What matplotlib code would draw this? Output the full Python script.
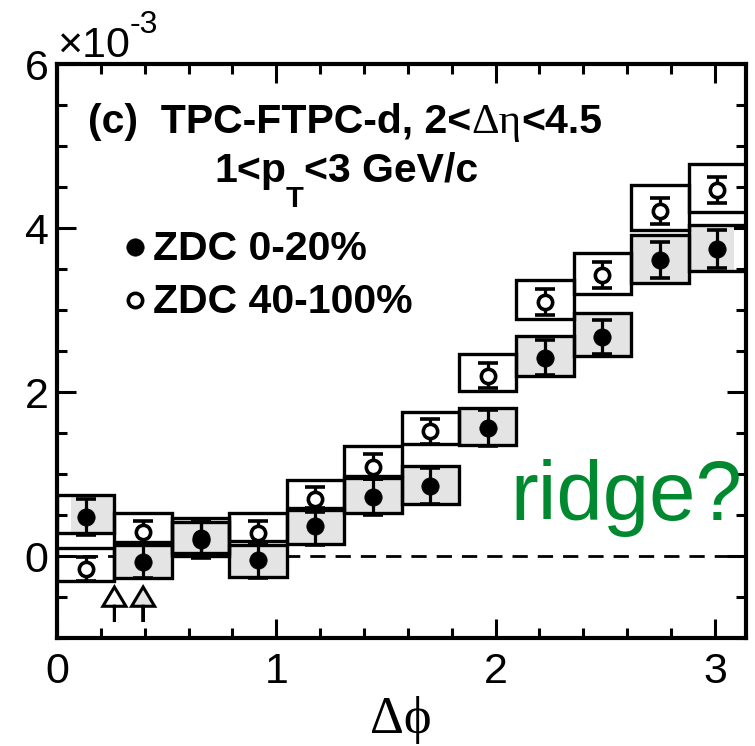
import numpy as np
import matplotlib
matplotlib.use("Agg")
import matplotlib.pyplot as plt
from matplotlib.patches import Rectangle
from matplotlib.lines import Line2D
from matplotlib.transforms import IdentityTransform
from matplotlib.ticker import MultipleLocator

# Delta-phi binning: 12 bins over [0, pi]
n_bins = 12
edges = np.linspace(0.0, np.pi, n_bins + 1)
centers = 0.5 * (edges[:-1] + edges[1:])

# Correlated yield, in units of 1e-3
# ZDC 0-20% (filled circles, grey systematic boxes)
central_val = [0.48, -0.07, 0.20, -0.05, 0.36, 0.72, 0.85, 1.56, 2.42, 2.67, 3.61, 3.74]
central_stat = [0.22, 0.20, 0.22, 0.22, 0.22, 0.22, 0.22, 0.22, 0.21, 0.21, 0.22, 0.23]
central_sys_lo = [0.28, -0.27, 0.04, -0.25, 0.15, 0.52, 0.64, 1.35, 2.19, 2.44, 3.33, 3.47]
central_sys_hi = [0.74, 0.13, 0.42, 0.14, 0.56, 0.95, 1.10, 1.81, 2.68, 2.96, 3.91, 4.04]

# ZDC 40-100% (open circles, open systematic boxes)
periph_val = [-0.16, 0.29, 0.22, 0.28, 0.69, 1.09, 1.52, 2.20, 3.10, 3.43, 4.21, 4.46]
periph_stat = [0.15, 0.14, 0.20, 0.15, 0.15, 0.15, 0.15, 0.15, 0.16, 0.16, 0.16, 0.16]
periph_sys_lo = [-0.30, 0.17, 0.00, 0.18, 0.59, 0.97, 1.37, 2.01, 2.89, 3.20, 3.98, 4.19]
periph_sys_hi = [0.10, 0.52, 0.46, 0.52, 0.93, 1.34, 1.76, 2.46, 3.37, 3.70, 4.53, 4.78]

# arrows marking the near-side region
arrow_x = [np.pi / 12, np.pi / 8]
arrow_face = ["white", "#e4e4e4"]

x_ticks = [0, 1, 2, 3]
x_tick_labels = ["0", "1", "2", "3"]
y_ticks = [0, 2, 4, 6]
y_tick_labels = ["0", "2", "4", "6"]

W, H = 755, 746
fig = plt.figure(figsize=(W / 100, H / 100), dpi=100)
ax = fig.add_axes([57 / W, 108 / H, 689 / W, 574 / H])
ax.set_xlim(0, np.pi)
ax.set_ylim(-1, 6)

SANS = "Liberation Sans"
GREY = "#e4e4e4"
LW_BOX = 2.4

closed_style = dict(ms=12.5, mfc="black", mec="black", mew=0.5)
open_style = dict(ms=10.3, mfc="white", mec="black", mew=2.6)

# zero line
ax.axhline(0, color="black", lw=2.0, dashes=(5.5, 3.6), zorder=1)

# grey fill of the central systematic boxes (kept a bit inside the frame)
fill_min, fill_max = 0.063, 3.087
for i in range(n_bins):
    x0 = max(edges[i], fill_min)
    x1 = min(edges[i + 1], fill_max)
    ax.add_patch(Rectangle((x0, central_sys_lo[i]), x1 - x0,
                           central_sys_hi[i] - central_sys_lo[i],
                           facecolor=GREY, edgecolor="none", zorder=2))

# box outlines for both selections
for lo, hi in ((central_sys_lo, central_sys_hi), (periph_sys_lo, periph_sys_hi)):
    for i in range(n_bins):
        ax.add_patch(Rectangle((edges[i], lo[i]), edges[i + 1] - edges[i],
                               hi[i] - lo[i], fill=False, edgecolor="black",
                               lw=LW_BOX, joinstyle="miter", zorder=3))

# statistical error bars
for vals, errs in ((central_val, central_stat), (periph_val, periph_stat)):
    ax.errorbar(centers, vals, yerr=errs, fmt="none", ecolor="black",
                elinewidth=2.3, capsize=7, capthick=2.6, zorder=5)

ax.plot(centers, periph_val, "o", linestyle="none", zorder=6, **open_style)
ax.plot(centers, central_val, "o", linestyle="none", zorder=7, **closed_style)

# arrows
for xa, fc in zip(arrow_x, arrow_face):
    ax.arrow(xa, -0.805, 0, 0.427, width=0.0, head_width=0.105, head_length=0.235,
             length_includes_head=True, facecolor=fc, edgecolor="black",
             lw=2.2, zorder=4)

# axes styling
for sp in ax.spines.values():
    sp.set_linewidth(3.0)
ax.xaxis.set_minor_locator(MultipleLocator(0.2))
ax.yaxis.set_minor_locator(MultipleLocator(0.5))
ax.set_xticks(x_ticks)
ax.set_xticklabels(x_tick_labels)
ax.set_yticks(y_ticks)
ax.set_yticklabels(y_tick_labels)
ax.tick_params(which="both", direction="in", top=True, right=True, width=2.2)
ax.tick_params(which="major", length=14)
ax.tick_params(which="minor", length=7.5)
ax.tick_params(axis="x", which="major", pad=10)
ax.tick_params(axis="y", which="major", pad=6)
for lab in ax.get_xticklabels() + ax.get_yticklabels():
    lab.set_fontfamily(SANS)
    lab.set_fontsize(31)

IDT = IdentityTransform()


def place_runs(runs, x, y_top, ha="left"):
    """Lay out text runs (text, props, dy) on one baseline, in pixel coords."""
    renderer = fig.canvas.get_renderer()
    items = []
    total = 0.0
    for s, props, dy in runs:
        t = fig.text(0, 0, s, transform=IDT, ha="left", va="baseline", **props)
        w = t.get_window_extent(renderer).width
        items.append((t, w, dy))
        total += w
    x0 = x - total / 2 if ha == "center" else x
    for t, w, dy in items:
        t.set_position((x0, H - y_top + dy))
        x0 += w


bold = dict(fontfamily=SANS, fontweight="bold", fontsize=29.5)
serif = dict(fontfamily=["Liberation Serif", "DejaVu Serif"], fontsize=31)
sub = dict(fontfamily=SANS, fontweight="bold", fontsize=21)

place_runs([("(c)  TPC-FTPC-d, 2<", bold, 0), ("\u0394\u03b7", serif, 0),
            ("<4.5", bold, 0)], 88, 133)
place_runs([("1<p", bold, 0), ("T", sub, -25), ("<3 GeV/c", bold, 0)], 346, 182,
           ha="center")

# legend
legend_rows = [("ZDC 0-20%", closed_style, 247, 260),
               ("ZDC 40-100%", open_style, 300, 313)]
for label, mstyle, ym, yb in legend_rows:
    fig.add_artist(Line2D([135], [H - ym], transform=IDT, marker="o",
                          linestyle="none", **mstyle))
    fig.text(153, H - yb, label, transform=IDT, ha="left", va="baseline", **bold)

# exponent of the y axis
place_runs([("\u00d710", dict(fontfamily=SANS, fontsize=31), 0),
            ("-3", dict(fontfamily=SANS, fontsize=23), 24)], 57, 57)

fig.text(510, H - 520, "ridge?", transform=IDT, ha="left", va="baseline",
         fontfamily=SANS, fontsize=60, color="#00892f")

fig.text(401, H - 733, "\u0394\u03d5", transform=IDT, ha="center", va="baseline",
         fontfamily=["Liberation Serif", "DejaVu Serif"], fontsize=38)

fig.savefig("out.png", dpi=100)
